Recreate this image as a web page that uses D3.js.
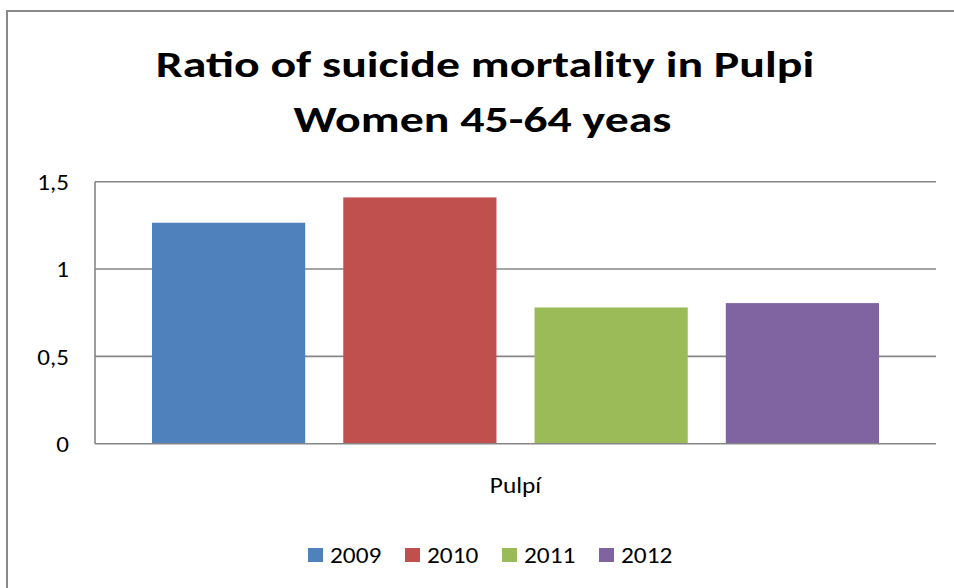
<!DOCTYPE html>
<html>
<head>
<meta charset="utf-8">
<script src="https://cdn.jsdelivr.net/npm/d3@7"></script>
<style>
  html, body { margin: 0; padding: 0; background: #fff; }
  svg { display: block; }
  text { font-family: Carlito, Calibri, "Open Sans", Lato, sans-serif; fill: #000; }
</style>
</head>
<body>
<svg id="chart" width="954" height="588"></svg>
<script>
// Chart data
const titleLines = ["Ratio of suicide mortality in Pulpi", "Women 45-64 yeas"];
const category = "Pulpí";
const series = ["2009", "2010", "2011", "2012"];
const values = [1.265, 1.41, 0.78, 0.805];
const colors = ["#4f81bd", "#c0504d", "#9bbb59", "#8064a2"];
const yTicks = [0, 0.5, 1, 1.5];

const svg = d3.select("#chart");
const W = 954, H = 588;
const plot = { left: 95, right: 936, top: 181.7, bottom: 443.7 };
const gridColor = "#868686";
const fontStack = "Carlito, Calibri, 'Open Sans', Lato, sans-serif";

// Stretch a text element horizontally by factor k (the chart typeface is set wide)
function widen(sel, k) {
  sel.each(function () {
    const w = this.getComputedTextLength();
    d3.select(this).attr("textLength", w * k).attr("lengthAdjust", "spacingAndGlyphs");
  });
}

// Outer chart frame (clipped at the right and bottom of the canvas)
svg.append("path")
  .attr("d", `M7,${H + 2} V11 H${W + 2}`)
  .attr("fill", "none")
  .attr("stroke", "#8a8a8a")
  .attr("stroke-width", 2);

// Title
svg.append("g").selectAll("text")
  .data(titleLines)
  .join("text")
  .attr("x", (d, i) => i === 0 ? 485 : 482.5)
  .attr("y", (d, i) => 77 + i * 55)
  .attr("text-anchor", "middle")
  .attr("font-size", 36.5)
  .attr("font-weight", "bold")
  .text(d => d)
  .call(widen, 1.31);

// Scales
const y = d3.scaleLinear().domain([0, 1.5]).range([plot.bottom, plot.top]);
const x = d3.scaleBand()
  .domain(series)
  .range([plot.left, plot.right])
  .paddingInner(0.199)
  .paddingOuter(0.298);

const locale = d3.formatLocale({ decimal: ",", thousands: ".", grouping: [3], currency: ["", " €"] });
const fmt = locale.format("~g");

// Horizontal gridlines
svg.append("g").selectAll("line")
  .data(yTicks.filter(t => t > 0))
  .join("line")
  .attr("x1", plot.left).attr("x2", plot.right)
  .attr("y1", d => y(d)).attr("y2", d => y(d))
  .attr("stroke", gridColor)
  .attr("stroke-width", 1.6);

// Bars
svg.append("g").selectAll("rect")
  .data(values)
  .join("rect")
  .attr("x", (d, i) => x(series[i]))
  .attr("width", x.bandwidth())
  .attr("y", d => y(d))
  .attr("height", d => y(0) - y(d))
  .attr("fill", (d, i) => colors[i]);

// Axis lines
svg.append("line")
  .attr("x1", plot.left).attr("x2", plot.right)
  .attr("y1", y(0)).attr("y2", y(0))
  .attr("stroke", gridColor).attr("stroke-width", 1.6);
svg.append("line")
  .attr("x1", plot.left).attr("x2", plot.left)
  .attr("y1", y(1.5)).attr("y2", y(0))
  .attr("stroke", gridColor).attr("stroke-width", 1.6);

// Y axis tick labels
const yAxis = d3.axisLeft(y).tickValues(yTicks).tickFormat(fmt).tickSize(0).tickPadding(26);
const yg = svg.append("g").attr("transform", `translate(${plot.left},0)`).call(yAxis);
yg.select(".domain").remove();
yg.attr("font-family", fontStack).attr("font-size", 22);
yg.selectAll("text").attr("fill", "#000").attr("dy", "0.36em").call(widen, 1.14);

// Category label
svg.append("text")
  .attr("x", (plot.left + plot.right) / 2)
  .attr("y", 493)
  .attr("text-anchor", "middle")
  .attr("font-size", 22)
  .text(category)
  .call(widen, 1.15);

// Legend
const legendX = [308, 405, 502, 599];
const lg = svg.append("g").selectAll("g")
  .data(series)
  .join("g")
  .attr("transform", (d, i) => `translate(${legendX[i]},0)`);
lg.append("rect")
  .attr("x", 0).attr("y", 548)
  .attr("width", 15).attr("height", 14)
  .attr("fill", (d, i) => colors[i]);
lg.append("text")
  .attr("x", 22).attr("y", 563)
  .attr("font-size", 22)
  .text(d => d)
  .call(widen, 1.15);
</script>
</body>
</html>
